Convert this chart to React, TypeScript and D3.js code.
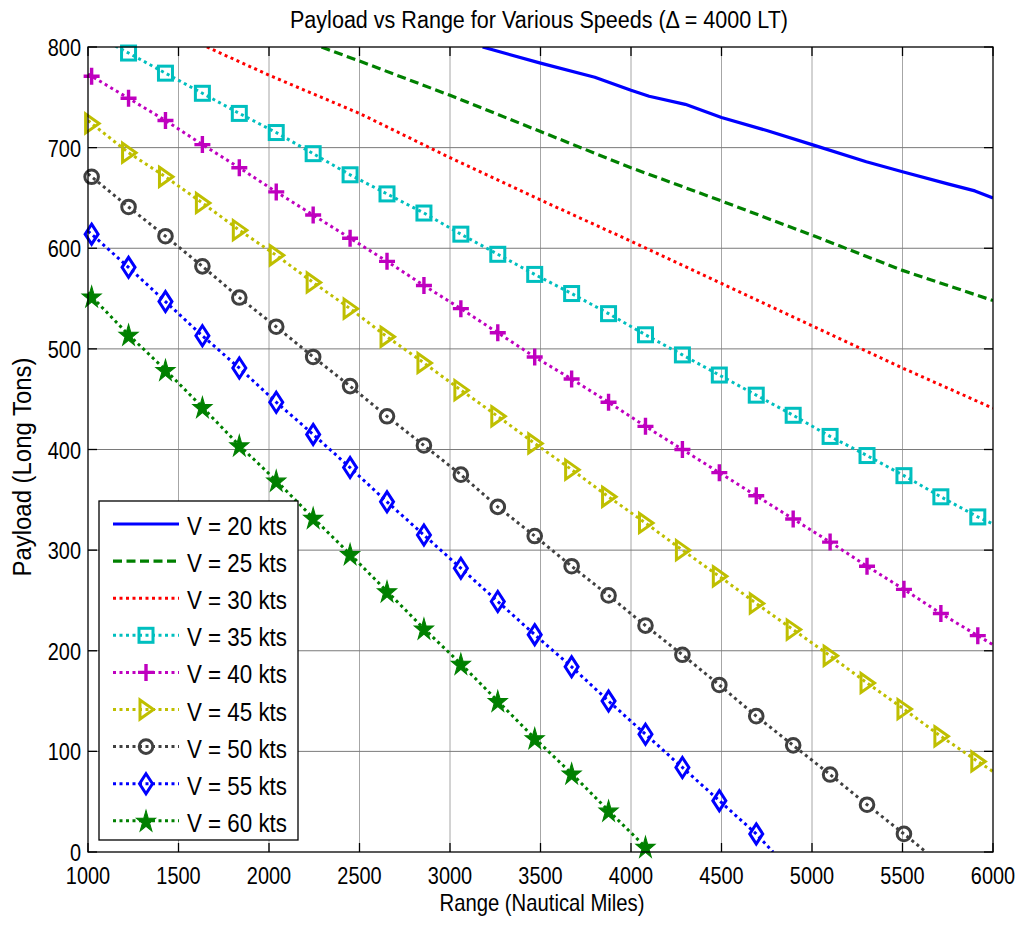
import React from "react";
import * as d3 from "d3";

// ---------- data ----------
const xTicks = [1000, 1500, 2000, 2500, 3000, 3500, 4000, 4500, 5000, 5500, 6000];
const yTicks = [0, 100, 200, 300, 400, 500, 600, 700, 800];

// plain line series (no markers)
const v20Range = [3180, 3500, 3800, 4000, 4100, 4300, 4500, 4750, 5000, 5300, 5500, 5750, 5900, 6000];
const v20Payload = [800, 784, 770, 757, 751, 743, 730, 717, 703, 686, 676, 664, 657, 650];

const v25Range = [2290, 2500, 3000, 3500, 4000, 4500, 5000, 5500, 6000];
const v25Payload = [800, 786, 752, 716, 680, 647, 613, 578, 548];

const v30Range = [1657, 2000, 2500, 3000, 3500, 4000, 4500, 5000, 5500, 6000];
const v30Payload = [800, 772, 734, 690, 648, 607, 565, 523, 481, 441];

// marker series: values at the marker ranges
const markerRanges = [1020, 1224, 1428, 1632, 1836, 2040, 2244, 2448, 2652, 2856, 3060, 3264, 3468,
  3672, 3876, 4080, 4284, 4488, 4692, 4896, 5100, 5304, 5508, 5712, 5916];

const v35Payload = [814, 794, 774, 754, 734, 715, 694, 673, 654, 635, 614, 594, 574, 555, 535, 514, 494, 474, 454, 434, 413, 394, 374, 353, 333];
const v35Ends = [1000, 818, 6000, 326];

const v40Payload = [771, 749, 727, 703, 680, 656, 633, 610, 587, 563, 540, 516, 492, 470, 447, 423, 400, 377, 354, 331, 308, 284, 261, 237, 215];
const v40Ends = [1000, 773, 6000, 206];

const v45Payload = [724, 695, 671, 645, 618, 593, 566, 540, 512, 486, 459, 433, 406, 380, 353, 327, 300, 274, 247, 221, 195, 168, 142, 115, 90];
const v45Ends = [1000, 727, 6000, 80];

const v50Payload = [671, 641, 612, 582, 551, 522, 492, 463, 433, 404, 375, 343, 314, 284, 255, 225, 196, 166, 135, 106, 77, 47, 18];
const v50Ends = [1000, 674, 5630, 0];

const v55Payload = [614, 581, 547, 513, 481, 447, 415, 382, 348, 315, 282, 249, 216, 184, 150, 117, 84, 51, 18];
const v55Ends = [1000, 617, 4785, 0];

const v60Payload = [552, 514, 479, 442, 404, 369, 332, 296, 259, 222, 187, 150, 113, 78, 41, 5];
const v60Ends = [1000, 556, 4095, 0];

const legendLabels = ["V = 20 kts", "V = 25 kts", "V = 30 kts", "V = 35 kts", "V = 40 kts",
  "V = 45 kts", "V = 50 kts", "V = 55 kts", "V = 60 kts"];

// ---------- layout ----------
const W = 1021, H = 926;
const L = 88, R = 993, T = 47, B = 852;
const FONT = "'Liberation Sans', Arial, Helvetica, sans-serif";

const x = d3.scaleLinear().domain([1000, 6000]).range([L, R]);
const y = d3.scaleLinear().domain([0, 800]).range([B, T]);
const line = d3.line<[number, number]>().x(d => x(d[0])).y(d => y(d[1]));

type Marker = "none" | "square" | "plus" | "tri" | "circle" | "diamond" | "star";
type Series = { pts: [number, number][]; marks: [number, number][]; color: string; dash: string; width: number; marker: Marker };

const DOT = "3 3.5";

function markerSeries(vals: number[], ends: number[]) {
  const marks: [number, number][] = vals.map((v, i) => [markerRanges[i], v] as [number, number]);
  const pts: [number, number][] = [[ends[0], ends[1]], ...marks, [ends[2], ends[3]]];
  return { pts, marks: marks.filter(m => m[1] <= 800 && m[1] >= 0) };
}
function zip(r: number[], p: number[]): [number, number][] {
  return r.map((v, i) => [v, p[i]] as [number, number]);
}

const series: Series[] = [
  { pts: zip(v20Range, v20Payload), marks: [], color: "#0000FF", dash: "", width: 3.2, marker: "none" },
  { pts: zip(v25Range, v25Payload), marks: [], color: "#008000", dash: "9 4.5", width: 3.2, marker: "none" },
  { pts: zip(v30Range, v30Payload), marks: [], color: "#FF0000", dash: DOT, width: 3, marker: "none" },
  { ...markerSeries(v35Payload, v35Ends), color: "#00BFBF", dash: DOT, width: 3, marker: "square" },
  { ...markerSeries(v40Payload, v40Ends), color: "#BF00BF", dash: DOT, width: 3, marker: "plus" },
  { ...markerSeries(v45Payload, v45Ends), color: "#BFBF00", dash: DOT, width: 3, marker: "tri" },
  { ...markerSeries(v50Payload, v50Ends), color: "#404040", dash: DOT, width: 3, marker: "circle" },
  { ...markerSeries(v55Payload, v55Ends), color: "#0000FF", dash: DOT, width: 3, marker: "diamond" },
  { ...markerSeries(v60Payload, v60Ends), color: "#008000", dash: DOT, width: 3, marker: "star" },
];

function starPath() {
  const pts: string[] = [];
  for (let i = 0; i < 10; i++) {
    const r = i % 2 === 0 ? 1 : 0.382;
    const a = -Math.PI / 2 + (i * Math.PI) / 5;
    pts.push(`${(r * Math.cos(a)).toFixed(4)},${(r * Math.sin(a)).toFixed(4)}`);
  }
  return "M" + pts.join("L") + "Z";
}
const STAR = starPath();

function MarkerShape({ kind, cx, cy, color }: { kind: Marker; cx: number; cy: number; color: string }) {
  const sw = 3;
  switch (kind) {
    case "square":
      return <rect x={cx - 7} y={cy - 7} width={14} height={14} fill="none" stroke={color} strokeWidth={sw} />;
    case "plus":
      return <path d={`M${cx - 8},${cy}H${cx + 8}M${cx},${cy - 8.5}V${cy + 8.5}`} stroke={color} strokeWidth={3.4} fill="none" />;
    case "tri":
      return <path d={`M${cx - 6},${cy - 9.5}L${cx + 7.5},${cy}L${cx - 6},${cy + 9.5}Z`} fill="none" stroke={color} strokeWidth={sw} strokeLinejoin="miter" />;
    case "circle":
      return <circle cx={cx} cy={cy} r={6.8} fill="none" stroke={color} strokeWidth={sw} />;
    case "diamond":
      return <path d={`M${cx},${cy - 10}L${cx + 6.5},${cy}L${cx},${cy + 10}L${cx - 6.5},${cy}Z`} fill="none" stroke={color} strokeWidth={sw} />;
    case "star":
      return <path d={STAR} transform={`translate(${cx},${cy + 1}) scale(10,11.5)`} fill={color} stroke={color} strokeWidth={0.1} />;
    default:
      return null;
  }
}

function Tick({ tx, ty, anchor, children }: { tx: number; ty: number; anchor: string; children: any }) {
  return (
    <text transform={`translate(${tx},${ty}) scale(0.83,1)`} textAnchor={anchor} fontFamily={FONT} fontSize={24} fill="#000">
      {children}
    </text>
  );
}

export default function App() {
  const legX0 = 99, legY0 = 501, legX1 = 298, legY1 = 840;
  const rowBase = 535, rowStep = 37.1;
  return (
    <svg width={W} height={H} style={{ position: "absolute", left: 0, top: 0, background: "#fff" }} xmlns="http://www.w3.org/2000/svg">
      <defs>
        <clipPath id="plotclip">
          <rect x={L} y={T} width={R - L} height={B - T} />
        </clipPath>
      </defs>
      <rect x={0} y={0} width={W} height={H} fill="#fff" />

      {/* grid */}
      {xTicks.filter(t => t !== 1000 && t !== 6000).map(t => (
        <line key={"gx" + t} x1={x(t)} x2={x(t)} y1={T} y2={B} stroke="#a6a6a6" strokeWidth={1} />
      ))}
      {yTicks.filter(t => t !== 0 && t !== 800).map(t => (
        <line key={"gy" + t} x1={L} x2={R} y1={y(t)} y2={y(t)} stroke="#7a7a7a" strokeWidth={1} />
      ))}

      {/* series */}
      <g clipPath="url(#plotclip)">
        {series.map((s, i) => (
          <path key={"l" + i} d={line(s.pts) || ""} fill="none" stroke={s.color} strokeWidth={s.width}
            strokeDasharray={s.dash || undefined} strokeLinejoin="round" />
        ))}
      </g>
      {series.map((s, i) => (
        <g key={"m" + i}>
          {s.marks.map((m, j) => (
            <MarkerShape key={j} kind={s.marker} cx={x(m[0])} cy={y(m[1])} color={s.color} />
          ))}
        </g>
      ))}

      {/* axes box & ticks */}
      <rect x={L} y={T} width={R - L} height={B - T} fill="none" stroke="#000" strokeWidth={1.3} />
      {xTicks.map(t => (
        <g key={"tx" + t}>
          <line x1={x(t)} x2={x(t)} y1={B} y2={B - 9} stroke="#000" strokeWidth={1.3} />
          <line x1={x(t)} x2={x(t)} y1={T} y2={T + 9} stroke="#000" strokeWidth={1.3} />
          <Tick tx={x(t)} ty={884} anchor="middle">{t}</Tick>
        </g>
      ))}
      {yTicks.map(t => (
        <g key={"ty" + t}>
          <line x1={L} x2={L + 9} y1={y(t)} y2={y(t)} stroke="#000" strokeWidth={1.3} />
          <line x1={R} x2={R - 9} y1={y(t)} y2={y(t)} stroke="#000" strokeWidth={1.3} />
          <Tick tx={81} ty={y(t) + 9} anchor="end">{t}</Tick>
        </g>
      ))}

      {/* labels */}
      <text x={539} y={28} textAnchor="middle" fontFamily={FONT} fontSize={23} textLength={498} lengthAdjust="spacingAndGlyphs" fill="#000">
        Payload vs Range for Various Speeds (Δ = 4000 LT)
      </text>
      <text x={542} y={911} textAnchor="middle" fontFamily={FONT} fontSize={24} textLength={205} lengthAdjust="spacingAndGlyphs" fill="#000">
        Range (Nautical Miles)
      </text>
      <text transform={`translate(31,467) rotate(-90)`} textAnchor="middle" fontFamily={FONT} fontSize={25} textLength={219} lengthAdjust="spacingAndGlyphs" fill="#000">
        Payload (Long Tons)
      </text>

      {/* legend */}
      <rect x={legX0} y={legY0} width={legX1 - legX0} height={legY1 - legY0} fill="#fff" stroke="#000" strokeWidth={1.3} />
      {series.map((s, i) => {
        const by = rowBase + i * rowStep;
        const ly = by - 11;
        return (
          <g key={"lg" + i}>
            <line x1={113} x2={179} y1={ly} y2={ly} stroke={s.color} strokeWidth={s.width} strokeDasharray={s.dash || undefined} />
            <MarkerShape kind={s.marker} cx={146} cy={ly} color={s.color} />
            <text x={187} y={by} fontFamily={FONT} fontSize={26} textLength={100} lengthAdjust="spacingAndGlyphs" fill="#000">
              {legendLabels[i]}
            </text>
          </g>
        );
      })}
    </svg>
  );
}
